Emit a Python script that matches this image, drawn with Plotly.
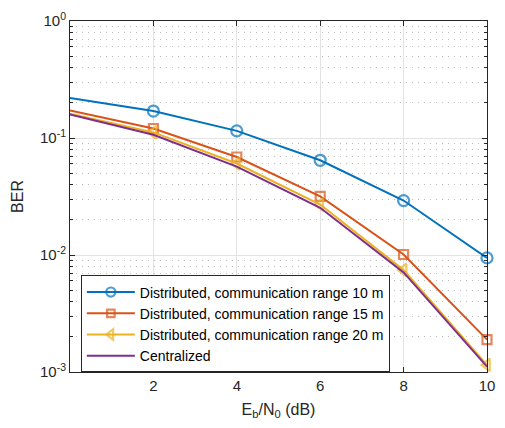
import plotly.graph_objects as go

ebn0 = [0, 2, 4, 6, 8, 10]
ber_dist_10m = [0.220, 0.170, 0.115, 0.0645, 0.0292, 0.00944]
ber_dist_15m = [0.172, 0.1206, 0.0688, 0.0317, 0.0101, 0.00189]
ber_dist_20m = [0.161, 0.1116, 0.0605, 0.0270, 0.00743, 0.00115]
ber_central = [0.159, 0.1066, 0.0570, 0.0253, 0.0071, 0.00111]

names = [
    "Distributed, communication range 10 m",
    "Distributed, communication range 15 m",
    "Distributed, communication range 20 m",
    "Centralized",
]
colors = ["#0072BD", "#D95319", "#EDB120", "#7E2F8E"]
symbols = ["circle-open", "square-open", "triangle-left-open", None]
sizes = [11, 9, 11, 0]

y_ticks = [1e-3, 1e-2, 1e-1, 1]
y_ticktext = ["10<sup>-3</sup>", "10<sup>-2</sup>", "10<sup>-1</sup>", "10<sup>0</sup>"]
y_minor = [m * 10.0 ** e for e in (-3, -2, -1) for m in range(2, 10)]
x_ticks = [2, 4, 6, 8, 10]

fig = go.Figure()
for name, ys, c, s, sz in zip(names, [ber_dist_10m, ber_dist_15m, ber_dist_20m, ber_central],
                              colors, symbols, sizes):
    if s:
        # no marker on the first sample at the left edge
        msizes = [0] + [sz] * (len(ebn0) - 1)
        fig.add_trace(go.Scatter(x=ebn0, y=ys, name=name, mode="lines+markers",
                                 line=dict(color=c, width=2), cliponaxis=False,
                                 marker=dict(symbol=s, size=msizes, color=c,
                                             line=dict(width=2.2, color=c))))
    else:
        fig.add_trace(go.Scatter(x=ebn0, y=ys, name=name, mode="lines",
                                 line=dict(color=c, width=2), cliponaxis=False))

font_family = "Liberation Sans, Arial, Helvetica, sans-serif"
axis_font = dict(family=font_family, size=15, color="#262626")

fig.update_layout(
    width=505, height=428,
    margin=dict(l=70, r=10, t=15, b=56),
    paper_bgcolor="white", plot_bgcolor="white",
    font=axis_font,
    showlegend=True,
    legend=dict(x=0.026, y=0.275, xanchor="left", yanchor="top",
                bgcolor="white", bordercolor="#262626", borderwidth=1,
                font=dict(family=font_family, size=14, color="#000"),
                tracegroupgap=0, itemwidth=48),
    xaxis=dict(
        range=[0, 10], tickvals=x_ticks, ticks="inside", ticklen=5,
        tickcolor="#262626", showline=True, linecolor="#262626", linewidth=1,
        mirror="ticks", showgrid=True, gridcolor="#e3e3e3", zeroline=False,
        title=dict(text="E<sub>b</sub>/N<sub>0</sub> (dB)",
                   font=dict(family=font_family, size=16, color="#262626"), standoff=10),
        tickfont=axis_font,
    ),
    yaxis=dict(
        type="log", range=[-3, 0], tickvals=y_ticks, ticktext=y_ticktext,
        ticks="inside", ticklen=5, tickcolor="#262626",
        showline=True, linecolor="#262626", linewidth=1, mirror="ticks",
        showgrid=True, gridcolor="#e3e3e3", zeroline=False,
        minor=dict(tickmode="array", tickvals=y_minor, ticks="inside", ticklen=3,
                   tickcolor="#262626", showgrid=True, gridcolor="#bdbdbd",
                   griddash="1px,5px", gridwidth=1),
        title=dict(text="BER", font=dict(family=font_family, size=16, color="#262626"),
                   standoff=12),
        tickfont=axis_font,
    ),
)

fig.write_html("out.html")
